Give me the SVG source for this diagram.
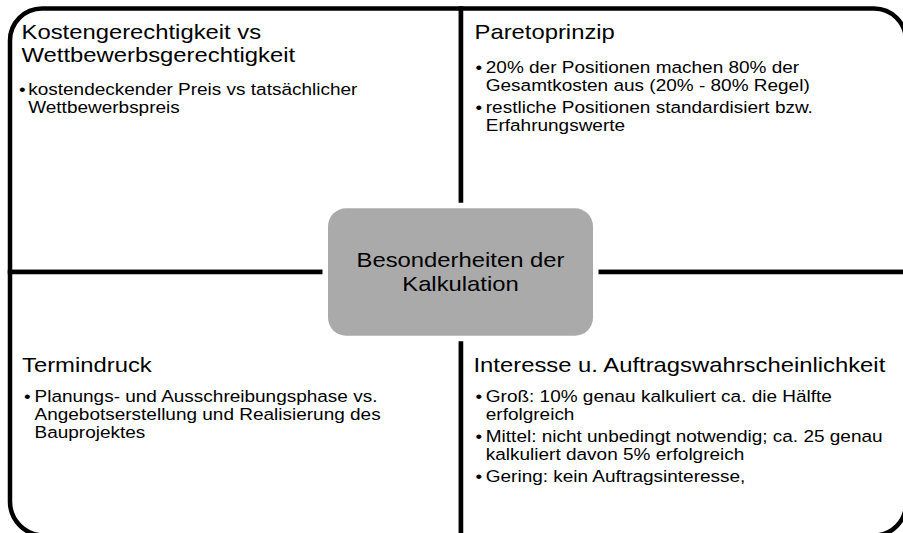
<svg xmlns="http://www.w3.org/2000/svg" width="903" height="533" viewBox="0 0 903 533">
  <style>
    .quad { fill: #ffffff; stroke: #000000; stroke-width: 4.5; stroke-linejoin: miter; }
    .hub { fill: #aaaaaa; stroke: #ffffff; stroke-width: 11; paint-order: stroke fill; }
    .title { font-family: "Liberation Sans", Arial, sans-serif; font-size: 20.2px; fill: #000000; }
    .body { font-family: "Liberation Sans", Arial, sans-serif; font-size: 16.1px; fill: #000000; }
    .hubtext { font-family: "Liberation Sans", Arial, sans-serif; font-size: 20.2px; fill: #000000; text-anchor: middle; }
  </style>

  <!-- Quadrant: top left -->
  <g id="quad-kosten">
    <path class="quad" d="M 461 272 H 10 V 40.5 A 32 32 0 0 1 42 8.5 H 461 Z"/>
    <text class="title" transform="translate(21.5 0) scale(1.18 1)"><tspan x="0" y="39.3">Kostengerechtigkeit vs</tspan><tspan x="0" y="61.7">Wettbewerbsgerechtigkeit</tspan></text>
    <text class="body" transform="translate(19 0) scale(1.18 1)" x="0" y="95">•</text>
    <text class="body" transform="translate(28.2 0) scale(1.18 1)"><tspan x="0" y="95">kostendeckender Preis vs tatsächlicher</tspan><tspan x="0" y="113.3">Wettbewerbspreis</tspan></text>
  </g>

  <!-- Quadrant: top right -->
  <g id="quad-pareto">
    <path class="quad" d="M 461 8.5 H 874 A 32 32 0 0 1 906 40.5 V 272 H 461 Z"/>
    <text class="title" transform="translate(474.5 0) scale(1.18 1)" x="0" y="39.3">Paretoprinzip</text>
    <text class="body" transform="translate(475.5 0) scale(1.18 1)"><tspan x="0" y="72.7">•</tspan><tspan x="0" y="112.7">•</tspan></text>
    <text class="body" transform="translate(485.8 0) scale(1.18 1)"><tspan x="0" y="72.7">20% der Positionen machen 80% der</tspan><tspan x="0" y="90.7">Gesamtkosten aus (20% - 80% Regel)</tspan><tspan x="0" y="112.7">restliche Positionen standardisiert bzw.</tspan><tspan x="0" y="130.7">Erfahrungswerte</tspan></text>
  </g>

  <!-- Quadrant: bottom left -->
  <g id="quad-termin">
    <path class="quad" d="M 10 272 H 461 V 535.5 H 44 A 34 34 0 0 1 10 501.5 Z"/>
    <text class="title" transform="translate(22 0) scale(1.18 1)" x="0" y="371.7">Termindruck</text>
    <text class="body" transform="translate(24 0) scale(1.18 1)" x="0" y="402.3">•</text>
    <text class="body" transform="translate(34.5 0) scale(1.18 1)"><tspan x="0" y="402.3">Planungs- und Ausschreibungsphase vs.</tspan><tspan x="0" y="420.5">Angebotserstellung und Realisierung des</tspan><tspan x="0" y="438.5">Bauprojektes</tspan></text>
  </g>

  <!-- Quadrant: bottom right -->
  <g id="quad-interesse">
    <path class="quad" d="M 461 272 H 906 V 503.5 A 32 32 0 0 1 874 535.5 H 461 Z"/>
    <text class="title" transform="translate(473.5 0) scale(1.18 1)" x="0" y="371.7">Interesse u. Auftragswahrscheinlichkeit</text>
    <text class="body" transform="translate(475.5 0) scale(1.18 1)"><tspan x="0" y="402.3">•</tspan><tspan x="0" y="442.3">•</tspan><tspan x="0" y="482.3">•</tspan></text>
    <text class="body" transform="translate(485.8 0) scale(1.18 1)"><tspan x="0" y="402.3">Groß: 10% genau kalkuliert ca. die Hälfte</tspan><tspan x="0" y="420.5">erfolgreich</tspan><tspan x="0" y="442.3">Mittel: nicht unbedingt notwendig; ca. 25 genau</tspan><tspan x="0" y="460.5">kalkuliert davon 5% erfolgreich</tspan><tspan x="0" y="482.3">Gering: kein Auftragsinteresse,</tspan></text>
  </g>

  <!-- Dividing lines between the quadrants are the shared edges above -->
  <g id="connectors"></g>

  <!-- Central hub: the white halo under the fill leaves a gap to the dividers -->
  <g id="hub">
    <rect class="hub" x="328" y="208.3" width="265" height="127.4" rx="18" ry="18"/>
    <text class="hubtext" transform="translate(460.5 0) scale(1.18 1)"><tspan x="0" y="267.3">Besonderheiten der</tspan><tspan x="0" y="291.5">Kalkulation</tspan></text>
  </g>
</svg>
